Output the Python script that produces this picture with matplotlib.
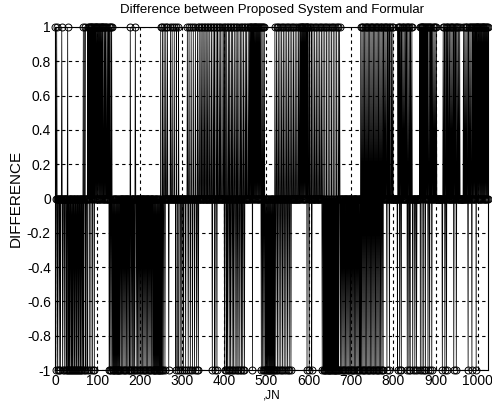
import numpy as np
import matplotlib
matplotlib.use("Agg")
import matplotlib.pyplot as plt

N_POINTS = 1024
TITLE = "Difference between Proposed System and Formular"
XLABEL = ",JN"
YLABEL = "DIFFERENCE"
XTICKS = [0, 100, 200, 300, 400, 500, 600, 700, 800, 900, 1000]
YTICKS = [-1, -0.8, -0.6, -0.4, -0.2, 0, 0.2, 0.4, 0.6, 0.8, 1]
YTICKLABELS = ["-1", "-0.8", "-0.6", "-0.4", "-0.2", "0", "0.2", "0.4", "0.6", "0.8", "1"]

# indices where the difference is +1
POS_IDX = [0, 3, 15, 29,
           66, 70, 76, 79, 81, 83, 85, 87, 89, 91, 93, 95, 97, 99, 101, 103, 105, 107, 109, 111, 113,
           116, 118, 120, 123, 126, 128, 131, 133,
           177, 189,
           249, 253, 257, 261, 265, 268, 272, 276, 281, 286, 291,
           312, 316, 321, 326, 331, 336,
           340, 344, 347, 351, 354, 358, 361, 365, 369, 373, 376, 380, 383, 387, 390, 394, 398, 401,
           405, 409, 412, 416, 419, 423, 427, 430, 434, 438, 441, 445, 449, 452, 456, 459, 461, 463,
           465, 467, 469, 471, 473, 475, 477, 479, 481, 483, 485, 488, 491, 494,
           519, 523, 527, 531, 535, 539, 543, 547, 551, 555, 559, 563, 567, 571, 575, 578, 580, 582,
           584, 586, 588, 590, 592, 594, 596, 598, 601, 605, 609, 613, 617, 621, 625, 629, 633, 637,
           641, 645, 649, 653, 657, 661, 665, 669, 672,
           722, 725, 728, 731, 734, 737, 740, 743, 746, 749, 752, 755, 758, 761, 764, 767, 770, 773,
           776, 779, 782, 785, 788, 791, 795, 798,
           810, 813, 816, 819, 822, 825, 828, 831, 834, 837, 840, 843,
           862, 864, 866, 868, 870, 872, 874, 876, 878, 880, 883, 886, 889, 892, 895, 898, 901,
           917, 920, 923, 926, 929, 932, 935, 938, 941, 944, 947, 950, 953, 956,
           965, 968, 971, 974, 977, 980, 983, 986, 988, 990, 992, 994, 996, 998, 1000, 1002, 1004,
           1006, 1008, 1010, 1012, 1014, 1016, 1018, 1020, 1022]

# indices where the difference is -1
NEG_IDX = [1, 5, 9, 12, 17, 21, 25, 27, 30, 32, 34, 37, 39, 41, 44, 46, 49, 51, 54, 56, 59, 61,
           64, 67, 71, 75, 80, 84, 88, 92,
           127, 129, 132, 135, 137, 139, 141, 143, 145, 147, 149, 151, 153, 156, 159, 162, 165, 168,
           171, 174, 176, 179, 182, 185, 187, 191, 194, 197, 200, 203, 206, 209, 212, 215, 218, 221,
           224, 227, 230, 232, 234, 236, 238, 240, 242, 244, 246, 248, 250, 252, 255, 259,
           268,
           285, 290, 295, 299, 303, 308, 314, 319, 324, 329, 334, 338,
           371, 377, 382,
           400, 404, 407, 411, 414, 418, 421, 425, 429, 432, 436, 440, 443, 447,
           466,
           487, 490, 493, 496, 498, 500, 502, 504, 506, 508, 510, 512, 514, 516, 518, 521, 525, 529,
           533, 537, 541, 545, 549, 553, 557,
           595, 600, 606,
           631, 634, 636, 638, 640, 642, 644, 646, 648, 650, 652, 654, 656, 658, 660, 662, 664, 666,
           668, 670, 674, 677, 680, 683, 686, 689, 692, 695, 698, 701, 704, 707, 710, 713, 716, 719,
           721, 724, 727, 730, 733, 736, 739, 742, 745, 748, 751, 754, 757, 760, 763, 766, 769, 772, 775,
           784, 790,
           809, 814, 818,
           832, 836, 839, 845, 850, 854,
           863, 867, 871, 875, 881, 885, 890,
           915, 921, 925,
           942, 948,
           976, 985, 995]

n = np.arange(1, N_POINTS + 1)
diff = np.zeros(N_POINTS)
diff[POS_IDX] = 1
diff[NEG_IDX] = -1

plt.rcParams['font.family'] = ['Liberation Sans', 'DejaVu Sans']

fig = plt.figure(figsize=(4.92, 4.05), dpi=100)
ax = fig.add_axes([55 / 492, 35 / 405, 433 / 492, 343 / 405])

ax.plot(n, diff, '-', color='black', linewidth=0.55, zorder=3)
ax.plot(n, diff, 'o', mfc='none', mec='black', mew=0.7, ms=5, zorder=4, clip_on=False)

ax.set_xlim(0, N_POINTS)
ax.set_ylim(-1, 1)
ax.set_xticks(XTICKS)
ax.set_yticks(YTICKS)
ax.set_yticklabels(YTICKLABELS)
ax.grid(True, color='black', linestyle=(0, (3, 3)), linewidth=0.8)
ax.set_axisbelow(True)
ax.tick_params(direction='in', length=3, labelsize=10, pad=3)
for s in ax.spines.values():
    s.set_linewidth(0.8)

ax.set_title(TITLE, fontsize=9.5, pad=10)
ax.set_xlabel(XLABEL, fontsize=8.5, labelpad=1)
ax.set_ylabel(YLABEL, fontsize=11, labelpad=3)

fig.savefig("out.png", dpi=100)
